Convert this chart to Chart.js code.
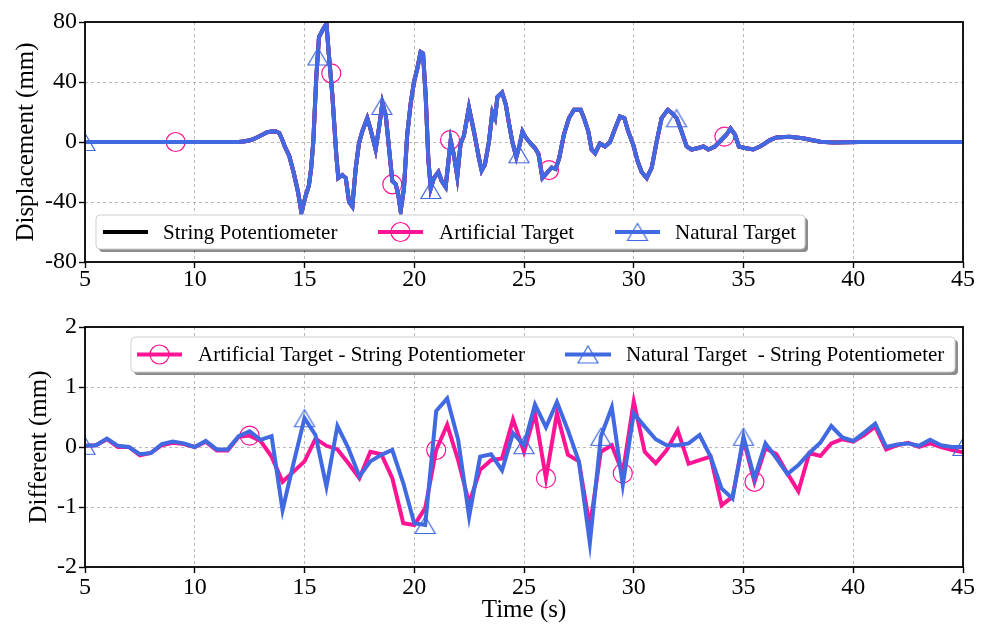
<!DOCTYPE html>
<html>
<head>
<meta charset="utf-8">
<script src="https://cdn.jsdelivr.net/npm/chart.js@4.4.0/dist/chart.umd.min.js"></script>
<style>
  html, body { margin: 0; padding: 0; background: #fff; }
  #wrap { position: relative; width: 989px; height: 626px; }
  canvas { position: absolute; left: 0; }
</style>
</head>
<body>
<div id="wrap">
  <canvas id="topChart" width="989" height="300" style="top:0"></canvas>
  <canvas id="bottomChart" width="989" height="326" style="top:300px"></canvas>
</div>
<script>
// ---- top panel: displacement (mm) vs time (s)
const dispTime = [
  5, 6, 7, 8, 9, 10, 11, 12, 12.3, 12.6,
  12.9, 13.1, 13.3, 13.5, 13.7, 13.85, 14.0, 14.1, 14.3, 14.5,
  14.7, 14.86, 15.05, 15.2, 15.3, 15.4, 15.54, 15.66, 15.84, 16.0,
  16.1, 16.27, 16.45, 16.54, 16.72, 16.88, 17.03, 17.18, 17.33, 17.48,
  17.63, 17.86, 18.0, 18.24, 18.39, 18.55, 18.7, 18.85, 19.0, 19.15,
  19.27, 19.38, 19.53, 19.68, 19.84, 19.99, 20.14, 20.29, 20.4, 20.52,
  20.64, 20.75, 20.9, 21.1, 21.25, 21.43, 21.66, 21.81, 21.96, 22.11,
  22.26, 22.49, 22.72, 22.95, 23.07, 23.22, 23.4, 23.56, 23.68, 23.79,
  24.0, 24.17, 24.32, 24.47, 24.65, 24.8, 24.93, 25.08, 25.3, 25.5,
  25.66, 25.84, 26.02, 26.26, 26.44, 26.6, 26.82, 27.05, 27.28, 27.58,
  27.73, 27.93, 28.08, 28.24, 28.46, 28.69, 28.92, 29.15, 29.37, 29.57,
  29.75, 29.98, 30.18, 30.36, 30.59, 30.82, 31.04, 31.27, 31.55, 31.76,
  31.95, 32.18, 32.41, 32.64, 32.94, 33.17, 33.4, 33.7, 34.0, 34.23,
  34.41, 34.61, 34.79, 35.06, 35.44, 35.75, 35.97, 36.2, 36.5, 37.1,
  37.7, 38.5, 39.1, 40.3, 42, 45
];
const dispString = [
  0, 0, 0, 0, 0, 0, 0, 0, 0.5, 1.5,
  3.5, 5, 6.5, 7, 7, 6, 1, -3, -9, -20,
  -33, -47, -36, -29, -18, 0, 44, 70, 75, 79,
  60, 31, -9, -24, -22, -24, -40, -43, -18, -1,
  7, 16, 9, -5, 9, 26, 18, -4, -26, -28,
  -35, -46, -31, 5, 26, 40, 49, 60, 59, 31,
  -11, -31, -24, -20, -26, -30, 1, -9, -23, -1,
  4, 23, 7, -11, -19, -15, 0, 20, 16, 30,
  33, 25, 12, 0, -10, -2, 7, 3, -1, -4,
  -8, -24, -21, -17, -18, -11, 5, 16, 21.5, 21.5,
  16, 7, -5, -7.5, -1, -3, 0, 9, 17, 16,
  7, -2, -13, -20, -24, -17, 0, 16, 21.5, 19,
  16, 7, -3, -5, -4, -3, -5, -3, 1.5, 5,
  9, 5, -3, -4, -5, -3, -1, 1.3, 3, 3.5,
  2.5, 0.2, -0.4, 0, 0, 0
];
// the two targets overlap the string potentiometer at this scale
const dispArtificial = dispString;
const dispNatural = dispString;

// sparse markers drawn on the top panel
const artMarkT = [9.13, 16.22, 19.0, 21.63, 26.14, 34.13];
const artMarkV = [0, 45.8, -28.2, 1.3, -18.7, 3.6];
const natMarkT = [5, 15.61, 18.52, 20.76, 24.77, 31.95];
const natMarkV = [0, 57, 24, -32, -8.2, 15.8];

// ---- bottom panel: difference (mm)
const diffTime = [
  5, 5.5, 6, 6.5, 7, 7.5, 8, 8.5, 9, 9.5,
  10, 10.5, 11, 11.5, 12, 12.5, 13, 13.5, 14, 14.5,
  15, 15.5, 16, 16.5, 17, 17.5, 18, 18.5, 19, 19.5,
  20, 20.5, 21, 21.5, 22, 22.5, 23, 23.5, 24, 24.5,
  25, 25.5, 26, 26.5, 27, 27.5, 28, 28.5, 29, 29.5,
  30, 30.5, 31, 31.5, 32, 32.5, 33, 33.5, 34, 34.5,
  35, 35.5, 36, 36.5, 37, 37.5, 38, 38.5, 39, 39.5,
  40, 40.5, 41, 41.5, 42, 42.5, 43, 43.5, 44, 44.5, 45
];
const diffArtificial = [
  0.02, 0.03, 0.13, 0.0, 0.0, -0.14, -0.1, 0.03, 0.07, 0.05,
  0.0, 0.09, -0.06, -0.06, 0.17, 0.19, 0.1, -0.16, -0.58, -0.41,
  -0.24, 0.14, 0.02, -0.04, -0.27, -0.52, -0.08, -0.12, -0.52, -1.27,
  -1.3, -1.02, -0.05, 0.37, -0.22, -0.94, -0.38, -0.22, -0.19, 0.46,
  -0.08, 0.56, -0.52, 0.56, -0.13, -0.24, -1.33, -0.08, 0.03, -0.44,
  0.76, -0.08, -0.27, -0.05, 0.28, -0.28, -0.22, -0.16, -0.97, -0.83,
  0.12, -0.58, -0.02, -0.12, -0.44, -0.74, -0.1, -0.15, 0.06, 0.13,
  0.09, 0.2, 0.34, -0.04, 0.03, 0.07, 0.0, 0.06, 0.0, -0.05, -0.09
];
const diffNatural = [
  0.02, 0.03, 0.14, 0.02, 0.0, -0.12, -0.1, 0.05, 0.09, 0.06,
  0.0, 0.1, -0.04, -0.04, 0.18, 0.26, 0.12, 0.18, -1.05, -0.27,
  0.48, 0.2, -0.66, 0.35, -0.02, -0.49, -0.24, -0.13, -0.05, -0.6,
  -1.27, -1.3, 0.6, 0.81, 0.12, -1.16, -0.16, -0.12, -0.39, 0.23,
  0.03, 0.71, 0.33, 0.75, 0.28, -0.24, -1.6, 0.17, 0.66, -0.63,
  0.56, 0.34, 0.13, 0.03, 0.03, 0.06, 0.2, -0.16, -0.69, -0.86,
  0.17, -0.52, 0.06, -0.19, -0.45, -0.3, -0.1, 0.07, 0.35, 0.16,
  0.1, 0.24, 0.39, 0.0, 0.04, 0.06, 0.02, 0.12, 0.03, 0.0, 0.0
];
const artMarkIdx = [15, 32, 42, 49, 61];
const natMarkIdx = [0, 20, 31, 40, 47, 60, 80];

const xTicks = [5, 10, 15, 20, 25, 30, 35, 40, 45];

const FONT = "'Liberation Serif', 'Times New Roman', serif";
const PINK = '#ff1493';
const BLUE = '#4169e1';
Chart.defaults.font.family = FONT;
Chart.defaults.color = '#000';

function xy(ts, vs) { return ts.map((t, i) => ({ x: t, y: vs[i] })); }

// hollow triangle, centred on its bounding box like matplotlib '^'
const tri = document.createElement('canvas');
tri.width = 24; tri.height = 20;
(function () {
  const c = tri.getContext('2d');
  c.strokeStyle = BLUE; c.lineWidth = 1.2;
  c.beginPath(); c.moveTo(12, 1.5); c.lineTo(2, 18.5); c.lineTo(22, 18.5); c.closePath();
  c.stroke();
})();

function roundRect(ctx, x, y, w, h, r) {
  ctx.beginPath();
  ctx.moveTo(x + r, y);
  ctx.arcTo(x + w, y, x + w, y + h, r);
  ctx.arcTo(x + w, y + h, x, y + h, r);
  ctx.arcTo(x, y + h, x, y, r);
  ctx.arcTo(x, y, x + w, y, r);
  ctx.closePath();
}

const frameLegend = {
  id: 'frameLegend',
  afterDraw(chart, args, opts) {
    const { ctx, chartArea: a } = chart;
    ctx.save();
    ctx.strokeStyle = '#000';
    ctx.lineWidth = 1.8;
    ctx.strokeRect(a.left, a.top, a.right - a.left, a.bottom - a.top);

    const b = opts.box;
    roundRect(ctx, b.x + 3, b.y + 3, b.w, b.h, 4);
    ctx.fillStyle = 'rgba(0,0,0,0.45)';
    ctx.fill();
    roundRect(ctx, b.x, b.y, b.w, b.h, 4);
    ctx.fillStyle = '#fff';
    ctx.fill();
    ctx.strokeStyle = '#d0d0d0';
    ctx.lineWidth = 1;
    ctx.stroke();

    const cy = b.y + b.h / 2;
    ctx.font = '21px ' + FONT;
    ctx.textBaseline = 'middle';
    ctx.textAlign = 'left';
    opts.items.forEach(it => {
      ctx.strokeStyle = it.color;
      ctx.lineWidth = 3.8;
      ctx.beginPath(); ctx.moveTo(it.x0, cy); ctx.lineTo(it.x1, cy); ctx.stroke();
      const mx = (it.x0 + it.x1) / 2;
      if (it.marker === 'circle') {
        ctx.lineWidth = 1.2;
        ctx.beginPath(); ctx.arc(mx, cy, 9.5, 0, Math.PI * 2); ctx.stroke();
      } else if (it.marker === 'triangle') {
        ctx.drawImage(tri, mx - 12, cy - 10);
      }
      ctx.fillStyle = '#000';
      ctx.fillText(it.label, it.tx, cy + 1);
    });
    ctx.restore();
  }
};

function gridOpts() {
  return {
    color: '#b0b0b0', lineWidth: 0.9,
    tickColor: '#000', tickWidth: 1.4, tickLength: 6, tickBorderDash: []
  };
}
function xScale(withTitle, height, pad) {
  return {
    type: 'linear', min: 5, max: 45,
    afterBuildTicks: s => { s.ticks = xTicks.map(v => ({ value: v })); },
    afterFit: s => { s.height = height; },
    ticks: { font: { size: 24 }, color: '#000', padding: pad, maxRotation: 0 },
    grid: gridOpts(),
    border: { display: false, dash: [3, 3] },
    title: { display: withTitle, text: 'Time (s)', font: { size: 25 }, color: '#000', padding: { top: 0, bottom: 1 } }
  };
}
function yScale(min, max, step, title, pad) {
  return {
    min: min, max: max,
    afterFit: s => { s.width = 85; },
    ticks: { stepSize: step, font: { size: 24 }, color: '#000', padding: 2 },
    grid: gridOpts(),
    border: { display: false, dash: [3, 3] },
    title: { display: true, text: title, font: { size: 25 }, color: '#000', padding: { top: pad, bottom: 0 } }
  };
}

const lineBase = { pointRadius: 0, borderWidth: 4, tension: 0, fill: false };

new Chart(document.getElementById('topChart'), {
  type: 'line',
  data: {
    datasets: [
      Object.assign({ label: 'String Potentiometer', data: xy(dispTime, dispString), borderColor: '#000', order: 5 }, lineBase),
      Object.assign({ label: 'Artificial Target', data: xy(dispTime, dispArtificial), borderColor: PINK, order: 4 }, lineBase),
      { label: 'Artificial markers', data: xy(artMarkT, artMarkV), showLine: false, pointStyle: 'circle',
        pointRadius: 9.5, pointBorderWidth: 1.2, pointBorderColor: PINK, pointBackgroundColor: 'rgba(0,0,0,0)', clip: 0, order: 3 },
      Object.assign({ label: 'Natural Target', data: xy(dispTime, dispNatural), borderColor: BLUE, order: 2 }, lineBase),
      { label: 'Natural markers', data: xy(natMarkT, natMarkV), showLine: false, pointStyle: tri,
        pointRadius: 10, clip: 0, order: 1 }
    ]
  },
  options: {
    responsive: false, animation: false, devicePixelRatio: 1,
    layout: { padding: { top: 22, right: 26, bottom: 0, left: 0 } },
    scales: {
      x: xScale(false, 38, -3),
      y: yScale(-80, 80, 40, 'Displacement (mm)', 11)
    },
    plugins: {
      legend: { display: false }, tooltip: { enabled: false },
      frameLegend: {
        box: { x: 96, y: 215, w: 709, h: 34 },
        items: [
          { label: 'String Potentiometer', color: '#000', marker: null, x0: 103, x1: 148, tx: 163 },
          { label: 'Artificial Target', color: PINK, marker: 'circle', x0: 378, x1: 423, tx: 439 },
          { label: 'Natural Target', color: BLUE, marker: 'triangle', x0: 615, x1: 660, tx: 675 }
        ]
      }
    }
  },
  plugins: [frameLegend]
});

new Chart(document.getElementById('bottomChart'), {
  type: 'line',
  data: {
    datasets: [
      Object.assign({}, lineBase, {
        label: 'Artificial Target - String Potentiometer', data: xy(diffTime, diffArtificial), borderColor: PINK,
        pointStyle: 'circle', pointRadius: c => artMarkIdx.includes(c.dataIndex) ? 9.5 : 0,
        pointBorderWidth: 1.2, pointBorderColor: PINK, pointBackgroundColor: 'rgba(0,0,0,0)', clip: 0, order: 2
      }),
      Object.assign({}, lineBase, {
        label: 'Natural Target  - String Potentiometer', data: xy(diffTime, diffNatural), borderColor: BLUE,
        pointStyle: tri, pointRadius: c => natMarkIdx.includes(c.dataIndex) ? 10 : 0, clip: 0, order: 1
      })
    ]
  },
  options: {
    responsive: false, animation: false, devicePixelRatio: 1,
    layout: { padding: { top: 27, right: 26, bottom: 0, left: 0 } },
    scales: {
      x: xScale(true, 59, 0),
      y: yScale(-2, 2, 1, 'Different (mm)', 24)
    },
    plugins: {
      legend: { display: false }, tooltip: { enabled: false },
      frameLegend: {
        box: { x: 131, y: 37, w: 824, h: 35 },
        items: [
          { label: 'Artificial Target - String Potentiometer', color: PINK, marker: 'circle', x0: 137, x1: 182, tx: 198 },
          { label: 'Natural Target  - String Potentiometer', color: BLUE, marker: 'triangle', x0: 565, x1: 611, tx: 626 }
        ]
      }
    }
  },
  plugins: [frameLegend]
});
</script>
</body>
</html>
